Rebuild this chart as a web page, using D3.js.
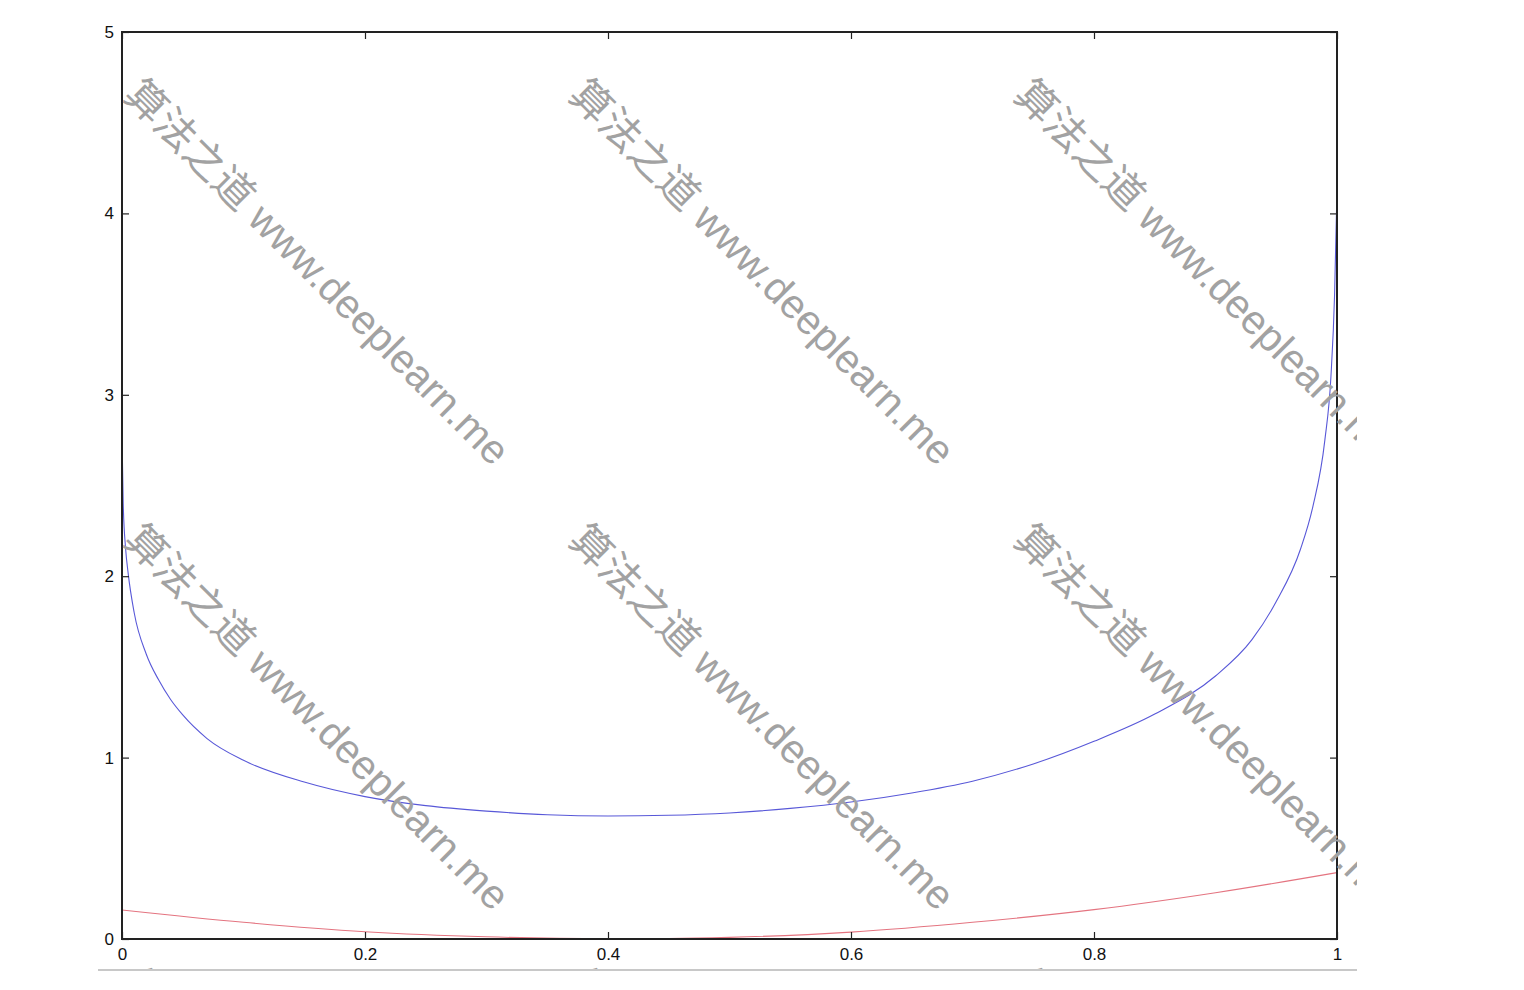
<!DOCTYPE html>
<html>
<head>
    <meta charset="utf-8">
    <title>Curves</title>
    <script src="https://d3js.org/d3.v7.min.js"></script>
    <style>
        body { margin: 0; background: #fff; }
        .axis text { font-family: "Liberation Sans", Arial, sans-serif; font-size: 17px; fill: #111; }
        .axis line { stroke: #222; stroke-width: 1.2; }
        .watermark { font-family: "Liberation Sans", "Noto Sans CJK SC", sans-serif; font-size: 41px; fill: #a2a2a2; }
    </style>
</head>
<body>
    <svg width="1524" height="990"></svg>
    <script>
        // values
        var xTicks = [0, 0.2, 0.4, 0.6, 0.8, 1];
        var yTicks = [0, 1, 2, 3, 4, 5];
        var blueX = [0, 0.001, 0.003, 0.005, 0.01, 0.02, 0.03, 0.04, 0.05, 0.07, 0.1, 0.15, 0.2, 0.25, 0.3, 0.35, 0.4, 0.45, 0.5, 0.55, 0.6, 0.65, 0.7, 0.75, 0.8, 0.85, 0.9, 0.93, 0.95, 0.97, 0.98, 0.99, 0.995, 0.998, 1];
        var blueY = [2.77, 2.4, 2.15, 2.02, 1.8, 1.57, 1.43, 1.32, 1.235, 1.105, 0.985, 0.865, 0.785, 0.735, 0.705, 0.685, 0.678, 0.682, 0.695, 0.72, 0.755, 0.805, 0.87, 0.965, 1.09, 1.24, 1.45, 1.65, 1.86, 2.15, 2.38, 2.75, 3.1, 3.55, 4.13];
        var redX = [0, 0.1, 0.2, 0.3, 0.4, 0.45, 0.5, 0.6, 0.7, 0.8, 0.9, 1];
        var redY = [0.16, 0.092, 0.040, 0.012, 0.002, 0.003, 0.009, 0.038, 0.092, 0.162, 0.255, 0.366];
        var watermarkText = "算法之道 www.deeplearn.me";

        var svg = d3.select("svg"),
            margin = {top: 32, right: 187, bottom: 51, left: 122},
            width = +svg.attr("width") - margin.left - margin.right,
            height = +svg.attr("height") - margin.top - margin.bottom;

        var x = d3.scaleLinear().domain([0, 1]).range([0, width]);
        var y = d3.scaleLinear().domain([0, 5]).range([height, 0]);

        var g = svg.append("g").attr("transform", "translate(" + margin.left + "," + margin.top + ")");

        var line = d3.line()
            .x(d => x(d[0]))
            .y(d => y(d[1]))
            .curve(d3.curveMonotoneX);

        g.append("path")
            .datum(blueX.map((v, i) => [v, blueY[i]]))
            .attr("fill", "none")
            .attr("stroke", "#5858d8")
            .attr("stroke-width", 1.1)
            .attr("d", line);

        g.append("path")
            .datum(redX.map((v, i) => [v, redY[i]]))
            .attr("fill", "none")
            .attr("stroke", "#e47480")
            .attr("stroke-width", 1.1)
            .attr("d", line);

        // axes with inward ticks on all four sides
        var tk = 7;
        g.append("g").attr("class", "axis")
            .attr("transform", `translate(0,${height})`)
            .call(d3.axisBottom(x).tickValues(xTicks).tickFormat(d3.format("")).tickSizeInner(-tk).tickSizeOuter(0).tickPadding(9))
            .call(a => a.select(".domain").remove());
        g.append("g").attr("class", "axis")
            .call(d3.axisTop(x).tickValues(xTicks).tickFormat("").tickSizeInner(-tk).tickSizeOuter(0))
            .call(a => a.select(".domain").remove());
        g.append("g").attr("class", "axis")
            .call(d3.axisLeft(y).tickValues(yTicks).tickFormat(d3.format("d")).tickSizeInner(-tk).tickSizeOuter(0).tickPadding(8))
            .call(a => a.select(".domain").remove());
        g.append("g").attr("class", "axis")
            .attr("transform", `translate(${width},0)`)
            .call(d3.axisRight(y).tickValues(yTicks).tickFormat("").tickSizeInner(-tk).tickSizeOuter(0))
            .call(a => a.select(".domain").remove());

        g.append("rect")
            .attr("width", width)
            .attr("height", height)
            .attr("fill", "none")
            .attr("stroke", "#222")
            .attr("stroke-width", 2);

        // bottom grey rule
        svg.append("line")
            .attr("x1", 98).attr("x2", 1357)
            .attr("y1", 970).attr("y2", 970)
            .attr("stroke", "#c8c8c8")
            .attr("stroke-width", 2);

        // watermarks, clipped to the screenshot area
        svg.append("clipPath").attr("id", "wm-clip")
            .append("rect").attr("x", 98).attr("y", 0).attr("width", 1259).attr("height", 969);

        var wm = svg.append("g").attr("clip-path", "url(#wm-clip)");
        [122, 567, 1012].forEach(function(cx) {
            [97, 542, 987].forEach(function(cy) {
                wm.append("text")
                    .attr("class", "watermark")
                    .attr("transform", `translate(${cx},${cy}) rotate(45)`)
                    .text(watermarkText);
            });
        });
    </script>
</body>
</html>
